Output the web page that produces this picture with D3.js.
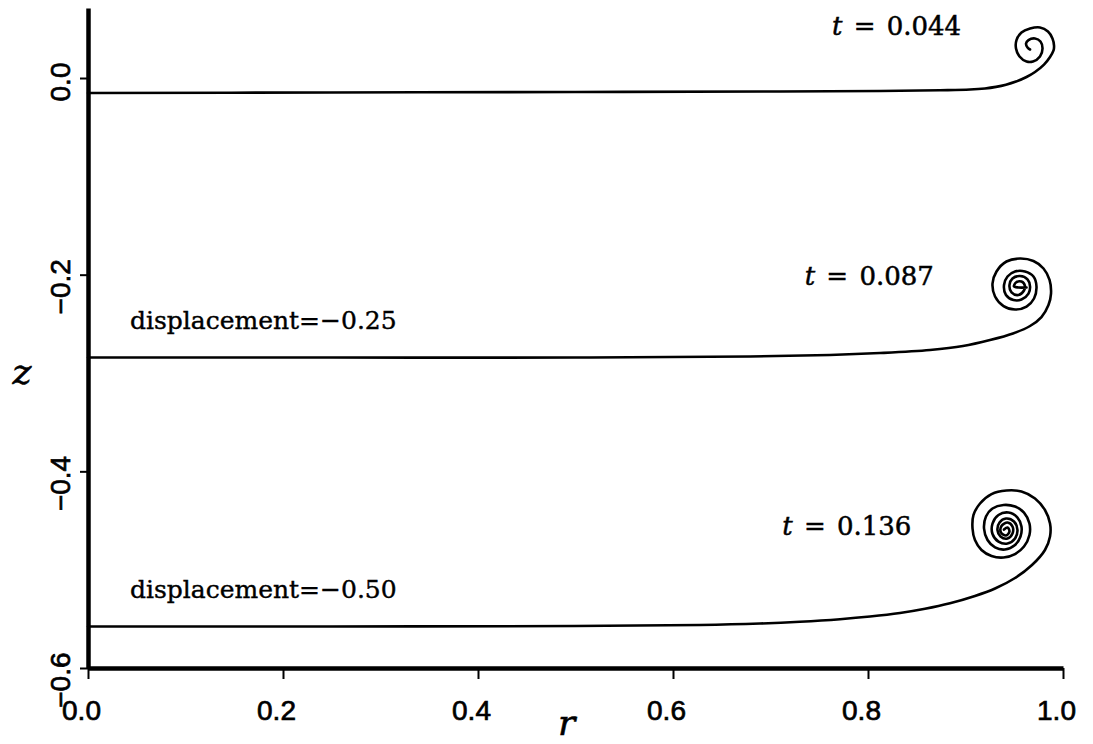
<!DOCTYPE html>
<html>
<head>
<meta charset="utf-8">
<script src="https://cdn.jsdelivr.net/npm/d3@7"></script>
<style>
  html, body { margin: 0; padding: 0; background: #fff; }
  svg { display: block; }
</style>
</head>
<body>
<svg id="chart" width="1093" height="744"></svg>
<script>
// ---- data ----
const xTicks = [0.0, 0.2, 0.4, 0.6, 0.8, 1.0];
const yTicks = [0.0, -0.2, -0.4, -0.6];
const xTitle = "r";
const yTitle = "z";

const timeLabels = ["t = 0.044", "t = 0.087", "t = 0.136"];
const timeLabelR = [0.763, 0.735, 0.712];
const timeLabelZ = [0.044, -0.210, -0.465];
const dispLabels = ["displacement=\u22120.25", "displacement=\u22120.50"];
const dispLabelR = [0.043, 0.043];
const dispLabelZ = [-0.255, -0.529];

// curve at t = 0.044
const curve1R = [0, 0.2482, 0.4995, 0.7097, 0.8123, 0.8738, 0.9046, 0.9200, 0.9313, 0.9415,
  0.9518, 0.9626, 0.9713, 0.9805, 0.9867, 0.9903, 0.9908, 0.9892, 0.9846, 0.9764,
  0.9662, 0.9574, 0.9523, 0.9518, 0.9554, 0.9626, 0.9692, 0.9764, 0.9790, 0.9769,
  0.9713, 0.9646, 0.9621, 0.9636, 0.9662];
const curve1Z = [-0.0153, -0.0147, -0.0142, -0.0137, -0.0132, -0.0124, -0.0117, -0.0106, -0.0090, -0.0068,
  -0.0036, 0.0010, 0.0061, 0.0136, 0.0214, 0.0280, 0.0330, 0.0402, 0.0473, 0.0514,
  0.0503, 0.0463, 0.0386, 0.0300, 0.0219, 0.0168, 0.0168, 0.0219, 0.0300, 0.0371,
  0.0402, 0.0386, 0.0351, 0.0310, 0.0290];

// curve at t = 0.087
const curve2R = [0, 0.2482, 0.4995, 0.6790, 0.7610, 0.8123, 0.8636, 0.8974, 0.9251, 0.9487,
  0.9662, 0.9779, 0.9851, 0.9877, 0.9862, 0.9800, 0.9697, 0.9559, 0.9420, 0.9318,
  0.9277, 0.9303, 0.9390, 0.9508, 0.9626, 0.9703, 0.9728, 0.9697, 0.9610, 0.9508,
  0.9431, 0.9395, 0.9415, 0.9492, 0.9574, 0.9646, 0.9662, 0.9636, 0.9559, 0.9482,
  0.9451, 0.9472, 0.9544, 0.9600, 0.9610, 0.9574, 0.9518, 0.9497, 0.9544, 0.9626];
const curve2Z = [-0.2843, -0.2843, -0.2843, -0.2832, -0.2817, -0.2797, -0.2766, -0.2726, -0.2665, -0.2598,
  -0.2522, -0.2431, -0.2309, -0.2192, -0.2054, -0.1937, -0.1861, -0.1836, -0.1866, -0.1968,
  -0.2090, -0.2222, -0.2319, -0.2354, -0.2324, -0.2242, -0.2120, -0.2019, -0.1968, -0.1968,
  -0.2019, -0.2105, -0.2207, -0.2258, -0.2253, -0.2192, -0.2120, -0.2049, -0.2014, -0.2039,
  -0.2105, -0.2181, -0.2207, -0.2161, -0.2115, -0.2070, -0.2080, -0.2120, -0.2130, -0.2130];

// curve at t = 0.136
const curve3R = [0, 0.2482, 0.4995, 0.6277, 0.6892, 0.7302, 0.7713, 0.8021, 0.8328, 0.8585,
  0.8841, 0.9097, 0.9303, 0.9508, 0.9682, 0.9815, 0.9867, 0.9867, 0.9815, 0.9713,
  0.9574, 0.9420, 0.9267, 0.9149, 0.9082, 0.9072, 0.9097, 0.9164, 0.9267, 0.9390,
  0.9508, 0.9600, 0.9656, 0.9656, 0.9600, 0.9508, 0.9390, 0.9277, 0.9210, 0.9190,
  0.9226, 0.9303, 0.9405, 0.9508, 0.9564, 0.9574, 0.9533, 0.9441, 0.9338, 0.9277,
  0.9277, 0.9338, 0.9431, 0.9508, 0.9533, 0.9497, 0.9415, 0.9349, 0.9328, 0.9359,
  0.9431, 0.9482, 0.9482, 0.9431, 0.9369, 0.9364, 0.9415, 0.9451, 0.9431, 0.9395];
const curve3Z = [-0.5578, -0.5578, -0.5573, -0.5563, -0.5548, -0.5530, -0.5504, -0.5477, -0.5441, -0.5398,
  -0.5342, -0.5268, -0.5192, -0.5085, -0.4953, -0.4800, -0.4663, -0.4531, -0.4393, -0.4276,
  -0.4205, -0.4195, -0.4231, -0.4327, -0.4444, -0.4581, -0.4698, -0.4800, -0.4861, -0.4876,
  -0.4841, -0.4765, -0.4648, -0.4531, -0.4419, -0.4358, -0.4342, -0.4378, -0.4459, -0.4581,
  -0.4698, -0.4774, -0.4795, -0.4749, -0.4663, -0.4561, -0.4470, -0.4419, -0.4444, -0.4531,
  -0.4637, -0.4714, -0.4734, -0.4683, -0.4597, -0.4510, -0.4480, -0.4520, -0.4597, -0.4663,
  -0.4683, -0.4632, -0.4561, -0.4520, -0.4556, -0.4622, -0.4653, -0.4612, -0.4571, -0.4592];

// ---- drawing ----
const svg = d3.select("#chart");
svg.append("rect").attr("width", 1093).attr("height", 744).attr("fill", "#fff");

const x = d3.scaleLinear().domain([0, 1]).range([88, 1063]);
const y = d3.scaleLinear().domain([-0.6, 0.0712]).range([668, 8]);

const line = d3.line()
  .x(d => x(d[0]))
  .y(d => y(d[1]))
  .curve(d3.curveCatmullRom.alpha(0.5));

const curves = [
  d3.zip(curve1R, curve1Z),
  d3.zip(curve2R, curve2Z),
  d3.zip(curve3R, curve3Z)
];

svg.append("g").selectAll("path")
  .data(curves)
  .join("path")
  .attr("d", line)
  .attr("fill", "none")
  .attr("stroke", "#000")
  .attr("stroke-width", 2.6)
  .attr("stroke-linejoin", "round")
  .attr("stroke-linecap", "round");

// x axis
const xAxis = d3.axisBottom(x)
  .tickValues(xTicks)
  .tickFormat(d3.format(".1f"))
  .tickSize(11)
  .tickSizeOuter(0);
const gx = svg.append("g").attr("transform", "translate(0,668)").call(xAxis);
gx.select(".domain").attr("stroke", "#000").attr("stroke-width", 4.5);
gx.selectAll(".tick line").attr("stroke", "#000").attr("stroke-width", 2);
gx.selectAll(".tick text")
  .attr("y", 52).attr("dy", null).attr("x", -7)
  .attr("fill", "#000")
  .attr("stroke", "#000").attr("stroke-width", 0.7)
  .style("font-family", "'Liberation Sans', Arial, sans-serif")
  .style("font-size", "28px");

// y axis
const yAxis = d3.axisLeft(y)
  .tickValues(yTicks)
  .tickFormat(d3.format(".1f"))
  .tickSize(8)
  .tickSizeOuter(0);
const gy = svg.append("g").attr("transform", "translate(88,0)").call(yAxis);
gy.select(".domain").attr("stroke", "#000").attr("stroke-width", 4.5);
gy.selectAll(".tick line").attr("stroke", "#000").attr("stroke-width", 2);
gy.selectAll(".tick text")
  .attr("transform", "rotate(-90)")
  .attr("x", 16).attr("y", -18).attr("dy", null)
  .attr("text-anchor", "end")
  .attr("fill", "#000")
  .attr("stroke", "#000").attr("stroke-width", 0.7)
  .style("font-family", "'Liberation Sans', Arial, sans-serif")
  .style("font-size", "28px");

// axis titles
svg.append("text")
  .attr("x", (x(0) + x(1)) / 2 - 9).attr("y", 735)
  .attr("text-anchor", "middle")
  .attr("stroke", "#000").attr("stroke-width", 0.6)
  .style("font-family", "'DejaVu Serif', serif")
  .style("font-style", "italic")
  .style("font-size", "36px")
  .text(xTitle);

svg.append("text")
  .attr("x", 22).attr("y", 384)
  .attr("text-anchor", "middle")
  .attr("stroke", "#000").attr("stroke-width", 0.6)
  .style("font-family", "'DejaVu Serif', serif")
  .style("font-style", "italic")
  .style("font-size", "36px")
  .text(yTitle);

// time labels
const tl = svg.append("g").selectAll("text")
  .data(timeLabels)
  .join("text")
  .attr("x", (d, i) => x(timeLabelR[i]))
  .attr("y", (d, i) => y(timeLabelZ[i]))
  .attr("fill", "#000")
  .attr("stroke", "#000").attr("stroke-width", 0.5)
  .style("font-family", "'DejaVu Serif', serif")
  .style("font-size", "26px")
  .style("word-spacing", "3px");
tl.each(function(d) {
  const parts = d.split(" = ");
  const t = d3.select(this);
  t.append("tspan").style("font-style", "italic").text(parts[0]);
  t.append("tspan").text(" = " + parts[1]);
});

// displacement labels
svg.append("g").selectAll("text")
  .data(dispLabels)
  .join("text")
  .attr("x", (d, i) => x(dispLabelR[i]))
  .attr("y", (d, i) => y(dispLabelZ[i]))
  .attr("fill", "#000")
  .attr("stroke", "#000").attr("stroke-width", 0.4)
  .style("font-family", "'DejaVu Serif', serif")
  .style("font-size", "25px")
  .text(d => d);
</script>
</body>
</html>
